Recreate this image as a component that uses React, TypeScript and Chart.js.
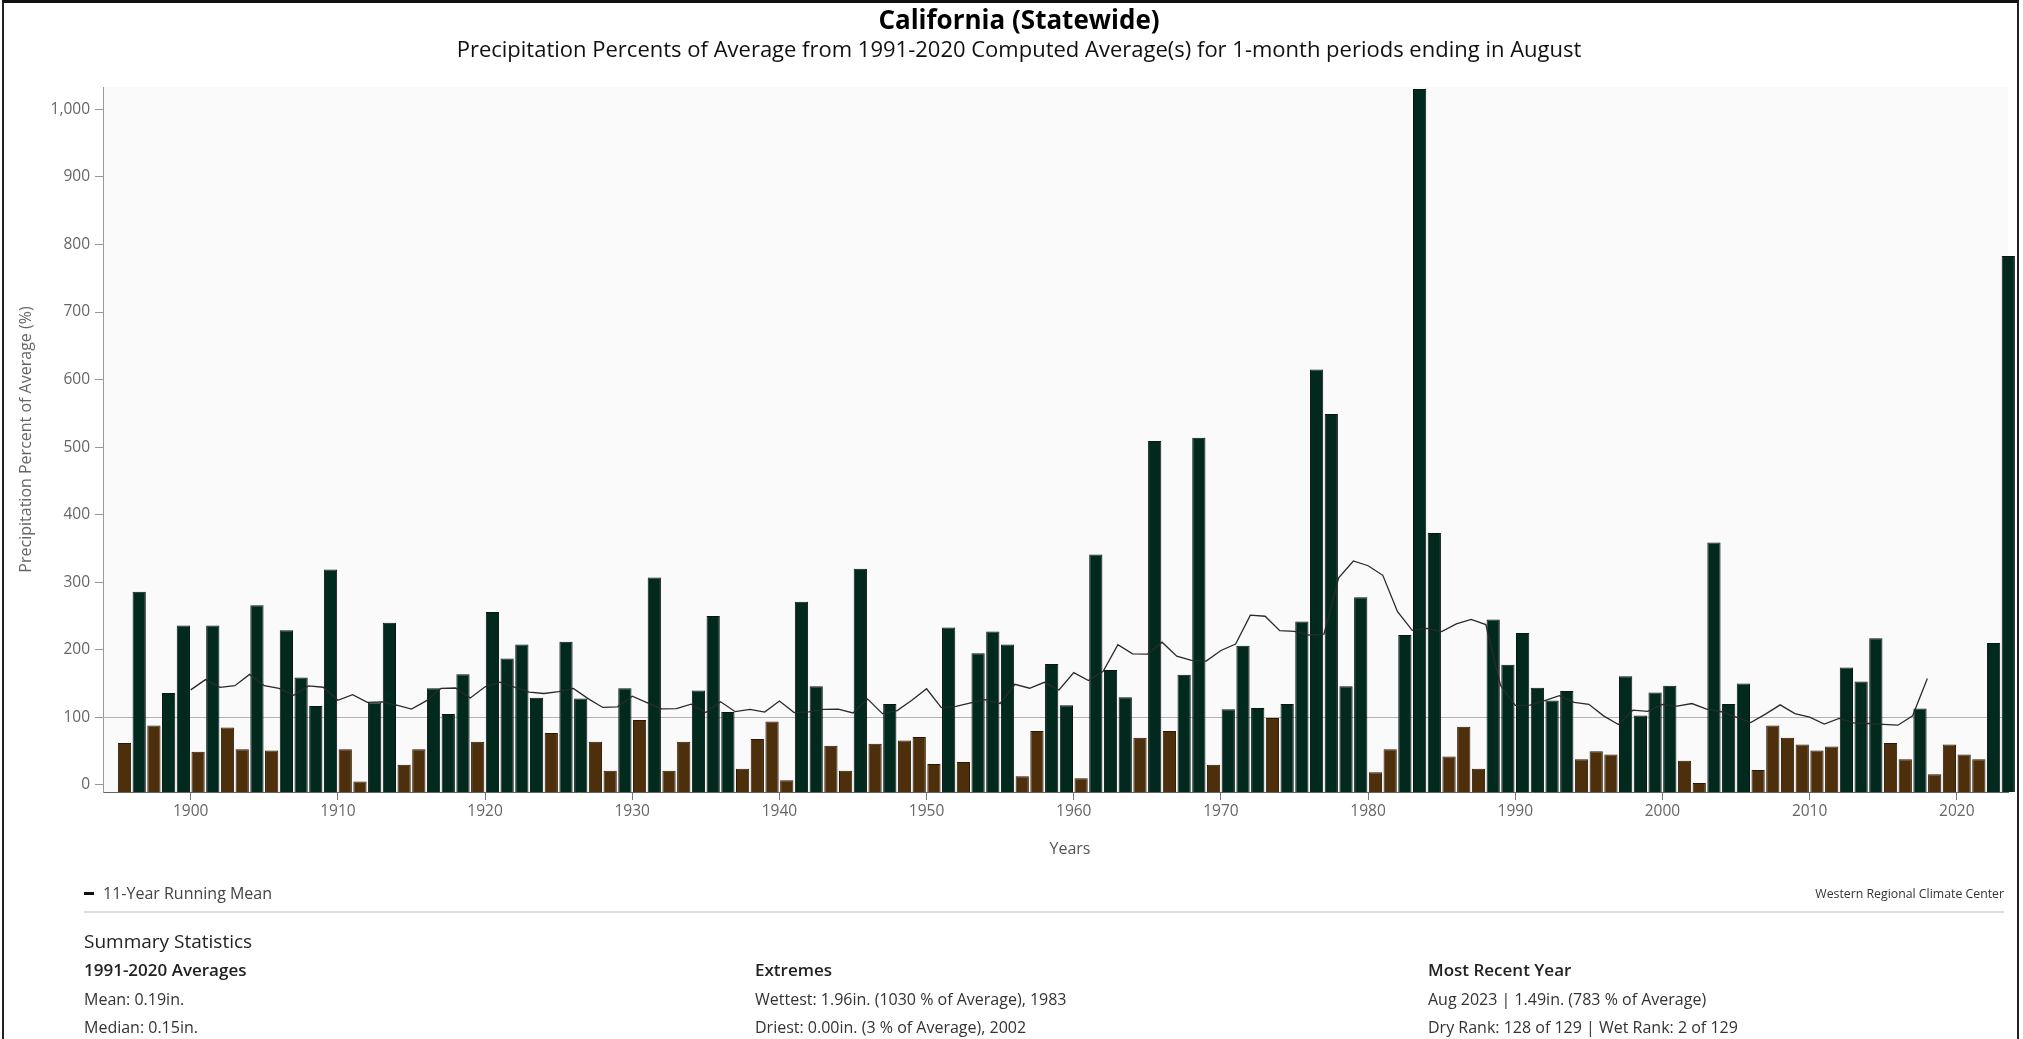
import React, { useEffect, useRef } from 'react';
import { Chart, registerables } from 'chart.js';

Chart.register(...registerables);

// ---- Data ----
const FIRST_YEAR = 1895;

// Precipitation percent of 1991-2020 average, August, 1895..2023
const PERCENT_OF_AVERAGE = [
  62, 286, 88, 136, 236, // 1895-1899
  49, 236, 85, 53, 266, 51, 229, 159, 117, 319, // 1900s
  53, 5, 122, 240, 30, 53, 143, 105, 164, 64, // 1910s
  256, 187, 208, 129, 77, 212, 128, 64, 21, 143, // 1920s
  96, 307, 21, 64, 140, 250, 108, 24, 68, 94, // 1930s
  7, 271, 146, 58, 21, 320, 61, 120, 66, 71, // 1940s
  31, 233, 34, 195, 227, 208, 13, 80, 179, 118, // 1950s
  10, 341, 170, 130, 70, 509, 80, 163, 514, 30, // 1960s
  112, 206, 114, 99, 120, 242, 615, 549, 146, 278, // 1970s
  19, 53, 222, 1030, 373, 42, 86, 24, 245, 178, // 1980s
  225, 144, 125, 139, 38, 50, 45, 161, 103, 137, // 1990s
  147, 36, 3, 359, 120, 150, 22, 88, 70, 60, // 2000s
  51, 57, 174, 153, 217, 62, 38, 113, 16, 60, // 2010s
  45, 38, 210, 783, // 2020-2023
];

const YEARS = PERCENT_OF_AVERAGE.map((_, i) => FIRST_YEAR + i);

const AVERAGE_PERCENT = 100;
const RUNNING_MEAN_WINDOW = 11;

const Y_TICKS = [0, 100, 200, 300, 400, 500, 600, 700, 800, 900, 1000];
const X_TICKS = [1900, 1910, 1920, 1930, 1940, 1950, 1960, 1970, 1980, 1990, 2000, 2010, 2020];

const Y_MIN = -10.4;
const Y_MAX = 1033;
const X_MIN = 1894.04;
const X_MAX = 2023.48;

const TITLE = 'California (Statewide)';
const SUBTITLE =
  'Precipitation Percents of Average from 1991-2020 Computed Average(s) for 1-month periods ending in August';
const Y_TITLE = 'Precipitation Percent of Average (%)';
const X_TITLE = 'Years';
const LEGEND_LABEL = '11-Year Running Mean';
const CREDIT = 'Western Regional Climate Center';

const STAT_COLUMNS = [
  { heading: '1991-2020 Averages', lines: ['Mean: 0.19in.', 'Median: 0.15in.'] },
  {
    heading: 'Extremes',
    lines: ['Wettest: 1.96in. (1030 % of Average), 1983', 'Driest: 0.00in. (3 % of Average), 2002'],
  },
  {
    heading: 'Most Recent Year',
    lines: ['Aug 2023 | 1.49in. (783 % of Average)', 'Dry Rank: 128 of 129 | Wet Rank: 2 of 129'],
  },
];

// ---- Styles ----
const WET = '#02291e';
const DRY = '#4e2f0b';
const WET_BORDER = '#0b1510';
const DRY_BORDER = '#2a1705';
const FONT = "'Open Sans', 'Noto Sans', sans-serif";

// 11-year centered running mean (as in the chart's legend)
const HALF = (RUNNING_MEAN_WINDOW - 1) / 2;
const RUNNING_MEAN = YEARS.slice(HALF, YEARS.length - HALF).map((year, k) => {
  const win = PERCENT_OF_AVERAGE.slice(k, k + RUNNING_MEAN_WINDOW);
  return { x: year, y: win.reduce((a, b) => a + b, 0) / RUNNING_MEAN_WINDOW };
});

const plotDecor = {
  id: 'plotDecor',
  beforeDraw(chart: any) {
    const { ctx, chartArea } = chart;
    const { left, top, right, bottom } = chartArea;
    ctx.save();
    ctx.fillStyle = '#fafafa';
    ctx.fillRect(left, top, right - left, bottom - top);
    ctx.restore();
  },
  beforeDatasetsDraw(chart: any) {
    const { ctx, chartArea } = chart;
    const y = Math.round(chart.scales.y.getPixelForValue(AVERAGE_PERCENT)) + 0.5;
    ctx.save();
    ctx.strokeStyle = '#b4b4b4';
    ctx.lineWidth = 1;
    ctx.beginPath();
    ctx.moveTo(chartArea.left, y);
    ctx.lineTo(chartArea.right, y);
    ctx.stroke();
    ctx.restore();
  },
};

function PrecipChart() {
  const ref = useRef<HTMLCanvasElement | null>(null);
  useEffect(() => {
    if (!ref.current) return;
    Chart.defaults.font.family = FONT;
    const chart = new Chart(ref.current, {
      type: 'bar',
      data: {
        datasets: [
          {
            type: 'line',
            label: LEGEND_LABEL,
            data: RUNNING_MEAN,
            borderColor: '#2a2a2a',
            borderWidth: 1.3,
            pointRadius: 0,
            tension: 0,
            order: 0,
            fill: false,
          } as any,
          {
            type: 'bar',
            label: 'Percent of Average',
            data: YEARS.map((year, i) => ({ x: year + 0.5, y: PERCENT_OF_AVERAGE[i] })),
            backgroundColor: PERCENT_OF_AVERAGE.map((v) => (v >= AVERAGE_PERCENT ? WET : DRY)),
            borderColor: PERCENT_OF_AVERAGE.map((v) => (v >= AVERAGE_PERCENT ? WET_BORDER : DRY_BORDER)),
            borderWidth: 1,
            borderSkipped: 'start',
            barPercentage: 0.9,
            categoryPercentage: 1,
            base: Y_MIN,
            clip: false,
            order: 1,
          } as any,
        ],
      },
      options: {
        responsive: false,
        animation: false,
        devicePixelRatio: 1,
        layout: { padding: { top: 27, right: 15, left: 0, bottom: 0 } },
        plugins: {
          legend: { display: false },
          tooltip: { enabled: false },
        },
        scales: {
          x: {
            type: 'linear',
            min: X_MIN,
            max: X_MAX,
            offset: false,
            afterBuildTicks: (scale: any) => {
              scale.ticks = X_TICKS.map((v) => ({ value: v }));
            },
            afterFit: (scale: any) => {
              scale.height = 68;
            },
            ticks: {
              color: '#666',
              font: { size: 15.5, family: FONT },
              padding: 2,
              maxRotation: 0,
              autoSkip: false,
              callback: (v: any) => String(v),
            },
            grid: {
              offset: false,
              drawOnChartArea: false,
              drawTicks: true,
              tickLength: 8,
              color: '#777',
            },
            border: { display: true, color: '#666', width: 1 },
          },
          y: {
            type: 'linear',
            min: Y_MIN,
            max: Y_MAX,
            afterBuildTicks: (scale: any) => {
              scale.ticks = Y_TICKS.map((v) => ({ value: v }));
            },
            afterFit: (scale: any) => {
              scale.width = 103;
            },
            ticks: {
              color: '#666',
              font: { size: 15.5, family: FONT },
              padding: 5,
              callback: (v: any) => Number(v).toLocaleString('en-US'),
            },
            grid: {
              drawOnChartArea: false,
              drawTicks: true,
              tickLength: 8,
              color: '#999',
            },
            border: { display: true, color: '#999', width: 1 },
            title: {
              display: true,
              text: Y_TITLE,
              color: '#666',
              font: { size: 16, family: FONT },
              padding: { top: 17, bottom: 0 },
            },
          },
        },
      },
      plugins: [plotDecor],
    });
    return () => chart.destroy();
  }, []);
  return (
    <canvas
      ref={ref}
      width={2023}
      height={800}
      style={{ position: 'absolute', left: 0, top: 60, width: 2023, height: 800 }}
    />
  );
}

export default function App() {
  const abs = (style: React.CSSProperties): React.CSSProperties => ({
    position: 'absolute',
    whiteSpace: 'nowrap',
    margin: 0,
    ...style,
  });
  const colLefts = [84, 755, 1428];
  return (
    <div
      style={{
        position: 'absolute',
        left: 0,
        top: 0,
        width: 2023,
        height: 1039,
        overflow: 'hidden',
        background: '#fff',
        fontFamily: FONT,
        color: '#222',
      }}
    >
      <PrecipChart />
      <div
        style={abs({
          left: 2,
          top: 0,
          width: 2017,
          height: 1039,
          borderTop: '3px solid #111',
          borderLeft: '2px solid #222',
          borderRight: '2px solid #222',
          boxSizing: 'border-box',
          pointerEvents: 'none',
        })}
      />
      <div style={abs({ left: 0, width: 2038, top: 3, textAlign: 'center', fontSize: 26, lineHeight: '32px', fontWeight: 700, color: '#000' })}>
        {TITLE}
      </div>
      <div style={abs({ left: 0, width: 2038, top: 34, textAlign: 'center', fontSize: 22, lineHeight: '28px', color: '#111' })}>
        {SUBTITLE}
      </div>
      <div style={abs({ left: 0, width: 2140, top: 838, textAlign: 'center', fontSize: 16, lineHeight: '20px', color: '#555' })}>
        {X_TITLE}
      </div>
      <div style={abs({ left: 84, top: 883, fontSize: 16, lineHeight: '20px', color: '#444', display: 'flex', alignItems: 'center' })}>
        <span style={{ display: 'inline-block', width: 10, height: 3, background: '#111', marginRight: 9 }} />
        {LEGEND_LABEL}
      </div>
      <div style={abs({ right: 2023 - 2004, top: 886, fontSize: 12.3, lineHeight: '16px', color: '#333' })}>{CREDIT}</div>
      <div style={abs({ left: 84, top: 911, width: 1920, height: 2, background: '#ddd' })} />
      <div style={abs({ left: 84, top: 928, fontSize: 19, lineHeight: '26px', color: '#222' })}>Summary Statistics</div>
      {STAT_COLUMNS.map((col, ci) => (
        <React.Fragment key={col.heading}>
          <div style={abs({ left: colLefts[ci], top: 959, fontSize: 17, lineHeight: '22px', fontWeight: 600, color: '#222' })}>
            {col.heading}
          </div>
          {col.lines.map((line, li) => (
            <div
              key={line}
              style={abs({ left: colLefts[ci], top: 988 + li * 28, fontSize: 16, lineHeight: '22px', color: '#333' })}
            >
              {line}
            </div>
          ))}
        </React.Fragment>
      ))}
    </div>
  );
}
